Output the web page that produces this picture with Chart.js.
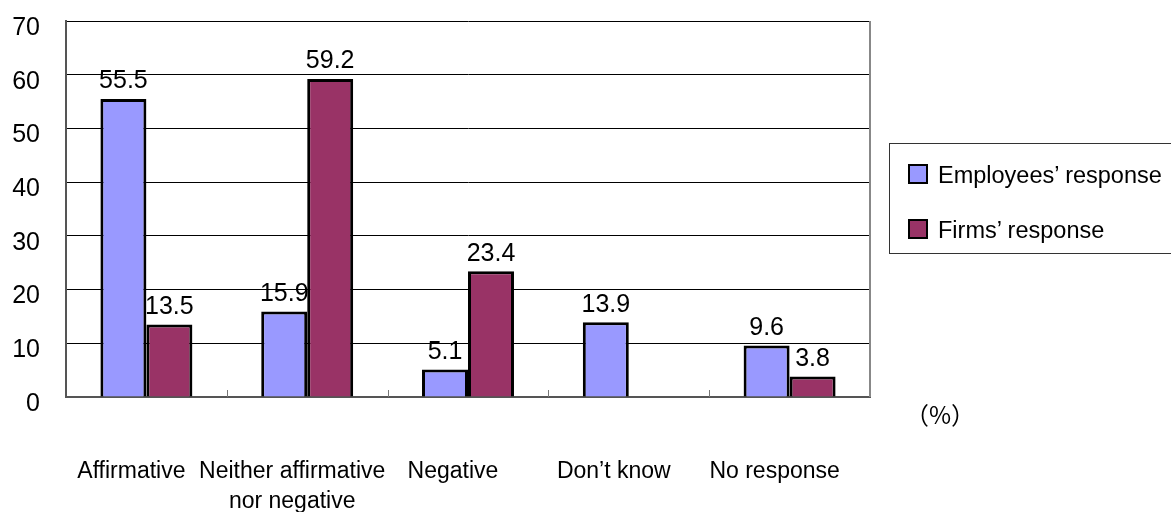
<!DOCTYPE html>
<html>
<head>
<meta charset="utf-8">
<script src="https://cdn.jsdelivr.net/npm/chart.js@4"></script>
<style>
    body { margin: 0; background: #fff; }
    .wrap { position: relative; width: 1171px; height: 512px; overflow: hidden; font-family: "Liberation Sans", Arial, sans-serif; }
    #chart { position: absolute; left: 0; top: 0; }
    .legend-box { position: absolute; left: 889px; top: 143px; width: 320px; height: 111px; border: 1px solid #333; box-sizing: border-box; }
    .legend-item { position: absolute; left: 18px; font-size: 23.5px; color: #000; white-space: nowrap; }
    .legend-item span.sw { display: inline-block; width: 16px; height: 16px; border: 2px solid #000; vertical-align: -1px; margin-right: 10px; }
    .unit { position: absolute; left: 905px; top: 396px; font-size: 24px; font-family: "Noto Sans CJK JP", sans-serif; }
</style>
</head>
<body>
<div class="wrap">
    <canvas id="chart" width="1171" height="512"></canvas>
    <div class="legend-box" id="legend"></div>
    <div class="unit">（%）</div>
</div>
<script>
// Chart data
const categories = ['Affirmative', ['Neither affirmative', 'nor negative'], 'Negative', 'Don\u2019t know', 'No response'];
const employeesValues = [55.5, 15.9, 5.1, 13.9, 9.6];
const firmsValues = [13.5, 59.2, 23.4, null, 3.8];
const seriesNames = ['Employees\u2019 response', 'Firms\u2019 response'];
const seriesColors = ['#9999ff', '#993366'];
const yTicks = [0, 10, 20, 30, 40, 50, 60, 70];

// Value labels drawn above each bar
const valueLabels = {
    id: 'valueLabels',
    afterDatasetsDraw(chart) {
        const ctx = chart.ctx;
        ctx.save();
        ctx.font = '25px "Liberation Sans", Arial, sans-serif';
        ctx.fillStyle = '#000';
        ctx.textAlign = 'center';
        ctx.textBaseline = 'bottom';
        chart.data.datasets.forEach((ds, i) => {
            chart.getDatasetMeta(i).data.forEach((bar, j) => {
                const v = ds.data[j];
                if (v === null || v === undefined) return;
                ctx.fillText(v.toFixed(1), bar.x, bar.y - 5);
            });
        });
        ctx.restore();
    }
};

// Right frame line and small inward ticks between categories
const frame = {
    id: 'frame',
    afterDraw(chart) {
        const ctx = chart.ctx;
        const a = chart.chartArea;
        const x = chart.scales.x;
        ctx.save();
        ctx.strokeStyle = '#888';
        ctx.lineWidth = 2;
        ctx.beginPath();
        ctx.moveTo(a.right, a.top);
        ctx.lineTo(a.right, a.bottom);
        ctx.stroke();
        ctx.strokeStyle = '#777';
        ctx.lineWidth = 1;
        for (let i = 1; i < categories.length; i++) {
            const px = Math.round((x.getPixelForTick(i - 1) + x.getPixelForTick(i)) / 2) + 0.5;
            ctx.beginPath();
            ctx.moveTo(px, a.bottom);
            ctx.lineTo(px, a.bottom - 7);
            ctx.stroke();
        }
        ctx.restore();
    }
};

const ctx = document.getElementById('chart').getContext('2d');
new Chart(ctx, {
    type: 'bar',
    data: {
        labels: categories,
        datasets: [{
            label: seriesNames[0],
            data: employeesValues,
            backgroundColor: seriesColors[0],
            borderColor: '#000',
            borderWidth: 3
        }, {
            label: seriesNames[1],
            data: firmsValues,
            backgroundColor: seriesColors[1],
            borderColor: '#000',
            borderWidth: 3
        }]
    },
    options: {
        responsive: false,
        animation: false,
        layout: { padding: { top: 21, right: 301, left: 0, bottom: 0 } },
        categoryPercentage: 0.572,
        barPercentage: 1,
        plugins: {
            legend: { display: false },
            tooltip: { enabled: false }
        },
        scales: {
            x: {
                grid: { display: false },
                border: { color: '#555', width: 2 },
                ticks: {
                    color: '#000',
                    font: { size: 23, family: '"Liberation Sans", Arial, sans-serif', lineHeight: 1.3 },
                    padding: 52,
                    labelOffset: -15,
                    maxRotation: 0,
                    autoSkip: false
                },
                afterFit(scale) { scale.height = 115; }
            },
            y: {
                min: 0,
                max: 70,
                afterBuildTicks(scale) { scale.ticks = yTicks.map(v => ({ value: v })); },
                grid: { color: '#000', lineWidth: 1, drawTicks: false },
                border: { color: '#555', width: 2 },
                ticks: {
                    color: '#000',
                    font: { size: 25, family: '"Liberation Sans", Arial, sans-serif' },
                    padding: 26,
                    labelOffset: 7
                },
                afterFit(scale) {
                    scale.width = 66;
                    scale.paddingTop = 0;
                    scale.paddingBottom = 0;
                }
            }
        }
    },
    plugins: [valueLabels, frame]
});

// Legend
const legend = document.getElementById('legend');
seriesNames.forEach((name, i) => {
    const item = document.createElement('div');
    item.className = 'legend-item';
    item.style.top = (i === 0 ? 18 : 73) + 'px';
    item.innerHTML = '<span class="sw" style="background:' + seriesColors[i] + '"></span>' + name;
    legend.appendChild(item);
});
</script>
</body>
</html>
